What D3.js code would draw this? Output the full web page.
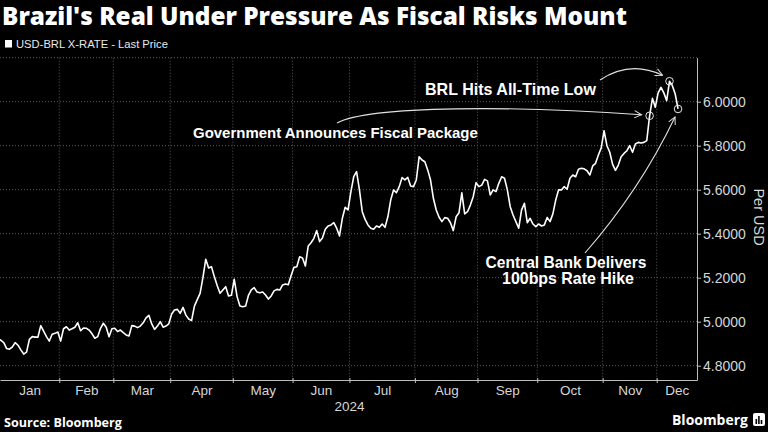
<!DOCTYPE html>
<html>
<head>
<meta charset="utf-8">
<script src="https://cdn.jsdelivr.net/npm/d3@7"></script>
<style>
  html, body { margin: 0; padding: 0; background: #000; }
  svg { display: block; }
</style>
</head>
<body>
<svg id="chart" width="768" height="432"></svg>
<script>
// ---------------- DATA ----------------
const titleText = "Brazil's Real Under Pressure As Fiscal Risks Mount";
const legendText = "USD-BRL X-RATE - Last Price";
const sourceText = "Source: Bloomberg";
const yearLabel = "2024";
const axisTitle = "Per USD";

const monthLabels = ["Jan","Feb","Mar","Apr","May","Jun","Jul","Aug","Sep","Oct","Nov","Dec"];
// trading-day index of the first session of each month
const monthStartIdx = [0,22,41,61,83,104,124,147,169,190,213,232];
// trading-day index range shown on the axis
const axisStartIdx = 0.67;
const axisEndIdx = 245.66;

const yTickValues = [4.8, 5.0, 5.2, 5.4, 5.6, 5.8, 6.0];
const yGridValues = [4.8, 5.0, 5.2, 5.4, 5.6, 5.8, 6.0, 6.2];
const yDomain = [4.735, 6.2];

// USD-BRL daily close, by trading-day index (Jan 2 = 0)
const usdbrl = [
 4.925,4.915,4.905,4.878,4.875,4.885,4.905,4.893,4.872,4.853,
 4.862,4.920,4.932,4.930,4.930,4.982,4.957,4.932,4.912,4.943,
 4.947,4.953,4.912,4.968,4.977,4.962,4.968,4.975,4.995,4.959,
 4.971,4.970,4.962,4.945,4.925,4.932,4.970,4.993,4.975,4.932,
 4.968,4.970,4.955,4.962,4.950,4.940,4.935,4.982,4.980,4.973,
 4.980,4.995,5.017,5.029,4.990,4.965,4.980,5.000,4.975,4.980,
 4.990,5.035,5.053,5.056,5.038,5.065,5.030,5.012,5.005,5.071,
 5.100,5.129,5.200,5.284,5.244,5.250,5.205,5.165,5.129,5.144,
 5.159,5.117,5.120,5.193,5.114,5.071,5.068,5.071,5.120,5.145,
 5.155,5.135,5.132,5.135,5.121,5.103,5.117,5.140,5.147,5.144,
 5.167,5.171,5.168,5.210,5.247,5.250,5.295,5.290,5.253,5.344,
 5.359,5.379,5.414,5.364,5.380,5.420,5.435,5.440,5.450,5.425,
 5.390,5.470,5.520,5.508,5.590,5.659,5.682,5.600,5.500,5.465,
 5.440,5.425,5.420,5.435,5.429,5.444,5.429,5.477,5.553,5.599,
 5.586,5.614,5.655,5.645,5.656,5.617,5.614,5.644,5.750,5.735,
 5.727,5.690,5.644,5.561,5.508,5.475,5.455,5.473,5.470,5.450,
 5.414,5.477,5.495,5.586,5.490,5.500,5.530,5.568,5.632,5.614,
 5.621,5.647,5.640,5.576,5.599,5.591,5.629,5.659,5.652,5.599,
 5.523,5.485,5.455,5.425,5.508,5.538,5.450,5.470,5.444,5.432,
 5.444,5.435,5.440,5.474,5.455,5.490,5.553,5.599,5.599,5.614,
 5.602,5.652,5.667,5.659,5.693,5.697,5.695,5.686,5.667,5.708,
 5.720,5.758,5.790,5.868,5.800,5.770,5.715,5.688,5.712,5.750,
 5.765,5.777,5.800,5.770,5.808,5.815,5.812,5.815,5.823,5.936,
 6.015,5.975,6.040,6.065,6.040,6.005,6.093,6.073,6.035,5.967
];

// annotated sessions (trading-day index)
const eventIdx = [229, 236, 239];
const annotationTexts = [
  ["BRL Hits All-Time Low"],
  ["Government Announces Fiscal Package"],
  ["Central Bank Delivers", "100bps Rate Hike"]
];

// ---------------- CHART ----------------
const svg = d3.select("#chart");
svg.append("rect").attr("width", 768).attr("height", 432).attr("fill", "#000");

const plot = { left: 0, right: 697, top: 57.7, bottom: 380 };
const x = d3.scaleLinear().domain([axisStartIdx, axisEndIdx]).range([plot.left, plot.right]);
const y = d3.scaleLinear().domain(yDomain).range([plot.bottom, plot.top]);

const labelFont = "'Liberation Sans', Arial, sans-serif";
const boldFont = "'Open Sans', 'DejaVu Sans', sans-serif";
const annFont = "'Liberation Sans', Arial, sans-serif";
const gridColor = "#5a5a5a";
const axisColor = "#bdbdbd";
const labelColor = "#d6d6d6";

function fit(sel, w) {
  const L = sel.node().getComputedTextLength();
  const fs = parseFloat(sel.attr("font-size"));
  sel.attr("font-size", fs * w / L);
  return sel;
}

// defs
const defs = svg.append("defs");
defs.append("clipPath").attr("id", "plotClip")
  .append("rect").attr("x", plot.left).attr("y", plot.top - 10)
  .attr("width", plot.right - plot.left).attr("height", plot.bottom - plot.top + 10);
defs.append("marker").attr("id", "arrow")
  .attr("viewBox", "0 0 10 10").attr("refX", 9).attr("refY", 5)
  .attr("markerWidth", 9).attr("markerHeight", 9)
  .attr("markerUnits", "userSpaceOnUse").attr("orient", "auto")
  .append("path").attr("d", "M1,1 L9,5 L1,9")
  .attr("fill", "none").attr("stroke", "#e0e0e0").attr("stroke-width", 1.1);

// month boundaries
const boundaries = monthStartIdx.slice(1).map(d => d - 0.5);
const edges = [axisStartIdx, ...boundaries, axisEndIdx];
const mids = monthLabels.map((m, i) => (edges[i] + edges[i + 1]) / 2);

// gridlines
const grid = svg.append("g");
grid.selectAll("line.h").data(yGridValues).join("line")
  .attr("x1", plot.left).attr("x2", plot.right)
  .attr("y1", d => y(d)).attr("y2", d => y(d))
  .attr("stroke", gridColor).attr("stroke-width", 1).attr("stroke-dasharray", "1,2");
grid.selectAll("line.v").data(boundaries).join("line")
  .attr("x1", d => x(d)).attr("x2", d => x(d))
  .attr("y1", plot.top).attr("y2", plot.bottom)
  .attr("stroke", gridColor).attr("stroke-width", 1).attr("stroke-dasharray", "1,2");

// bottom axis: ticks at boundaries
const xTickAxis = d3.axisBottom(x).tickValues(boundaries).tickFormat("").tickSize(3).tickSizeOuter(0);
const gx = svg.append("g").attr("transform", `translate(0,${plot.bottom})`).call(xTickAxis);
gx.select(".domain").attr("stroke", axisColor);
gx.selectAll(".tick line").attr("stroke", axisColor).attr("y1", -2);

// month labels
const xLabelAxis = d3.axisBottom(x).tickValues(mids).tickFormat((d, i) => monthLabels[i]).tickSize(0).tickPadding(5);
const gxl = svg.append("g").attr("transform", `translate(0,${plot.bottom})`).call(xLabelAxis);
gxl.select(".domain").remove();
gxl.selectAll("text").attr("fill", labelColor).attr("font-family", labelFont).attr("font-size", 13.5);

svg.append("text").attr("x", x(boundaries[5])).attr("y", 411)
  .attr("text-anchor", "middle").attr("fill", labelColor)
  .attr("font-family", labelFont).attr("font-size", 13.5).text(yearLabel);

// right axis
const yAxis = d3.axisRight(y).tickValues(yTickValues).tickFormat(d3.format(".4f")).tickSize(4).tickSizeOuter(0).tickPadding(2);
const gy = svg.append("g").attr("transform", `translate(${plot.right},0)`).call(yAxis);
gy.select(".domain").attr("stroke", axisColor);
gy.selectAll(".tick line").attr("stroke", axisColor);
gy.selectAll("text").attr("fill", labelColor).attr("font-family", labelFont).attr("font-size", 14);

svg.append("text")
  .attr("transform", `translate(754,217) rotate(90)`)
  .attr("text-anchor", "middle").attr("fill", labelColor)
  .attr("font-family", labelFont).attr("font-size", 14.5).text(axisTitle);

// the line
const line = d3.line().x((d, i) => x(i)).y(d => y(d));
svg.append("g").attr("clip-path", "url(#plotClip)")
  .append("path").datum(usdbrl)
  .attr("d", line).attr("fill", "none").attr("stroke", "#fff")
  .attr("stroke-width", 1.6).attr("stroke-linejoin", "round");

// event circles
svg.selectAll("circle.ev").data(eventIdx).join("circle")
  .attr("cx", d => x(d)).attr("cy", d => y(usdbrl[d])).attr("r", 3.8)
  .attr("fill", "none").attr("stroke", "#e8e8e8").attr("stroke-width", 1);

// annotation arrows
const ann = svg.append("g").attr("fill", "none").attr("stroke", "#e0e0e0").attr("stroke-width", 1.1);
const pLow = [x(eventIdx[1]), y(usdbrl[eventIdx[1]])];
const pGov = [x(eventIdx[0]), y(usdbrl[eventIdx[0]])];
const pCb = [x(eventIdx[2]), y(usdbrl[eventIdx[2]])];
ann.append("path").attr("marker-end", "url(#arrow)")
  .attr("d", `M600,80 Q630,60 ${pLow[0] - 7},${pLow[1] - 6}`);
ann.append("path").attr("marker-end", "url(#arrow)")
  .attr("d", `M337,123 C370,105 520,106 ${pGov[0] - 8},${pGov[1] - 1}`);
ann.append("path").attr("marker-end", "url(#arrow)")
  .attr("d", `M585,253 Q640,190 ${pCb[0] - 3},${pCb[1] + 8}`);

// annotation texts
const annStyle = s => s.attr("fill", "#fff").attr("font-family", annFont)
  .attr("font-weight", 700).attr("font-size", 14);
fit(annStyle(svg.append("text").attr("x", 425).attr("y", 95)).text(annotationTexts[0][0]), 171);
fit(annStyle(svg.append("text").attr("x", 193).attr("y", 137.5)).text(annotationTexts[1][0]), 285);
// two-line annotation as one text element with tspans
const cbText = annStyle(svg.append("text").attr("text-anchor", "middle"));
const cbWidths = [161, 132];
const cbPos = [[566, 268], [568, 284]];
annotationTexts[2].forEach((t, i) => {
  const ts = cbText.append("tspan").attr("x", cbPos[i][0]).attr("y", cbPos[i][1])
    .attr("font-size", 14).text(t);
  fit(ts, cbWidths[i]);
});

// title
fit(svg.append("text").attr("x", 2).attr("y", 25)
  .attr("fill", "#fff").attr("font-family", boldFont).attr("font-weight", 800)
  .attr("font-size", 23).text(titleText), 625);

// legend
svg.append("rect").attr("x", 5).attr("y", 40).attr("width", 7).attr("height", 7.5).attr("fill", "#fff");
fit(svg.append("text").attr("x", 16).attr("y", 48)
  .attr("fill", "#e8e8e8").attr("font-family", labelFont).attr("font-size", 12.5).text(legendText), 152);

// source
fit(svg.append("text").attr("x", 4).attr("y", 427)
  .attr("fill", "#fff").attr("font-family", boldFont).attr("font-weight", 700)
  .attr("font-size", 12).text(sourceText), 118);

// Bloomberg wordmark
fit(svg.append("text").attr("x", 672).attr("y", 425)
  .attr("fill", "#fff").attr("font-family", boldFont).attr("font-weight", 700)
  .attr("font-size", 14).text("Bloomberg"), 76);
const logo = svg.append("g").attr("transform", "translate(753,413)");
logo.append("rect").attr("width", 12).attr("height", 13).attr("rx", 2).attr("fill", "#fff");
logo.selectAll("rect.bar").data([5, 8, 4]).join("rect")
  .attr("x", (d, i) => 2.5 + i * 2.6).attr("y", d => 11 - d)
  .attr("width", 1.6).attr("height", d => d).attr("fill", "#000");
</script>
</body>
</html>
